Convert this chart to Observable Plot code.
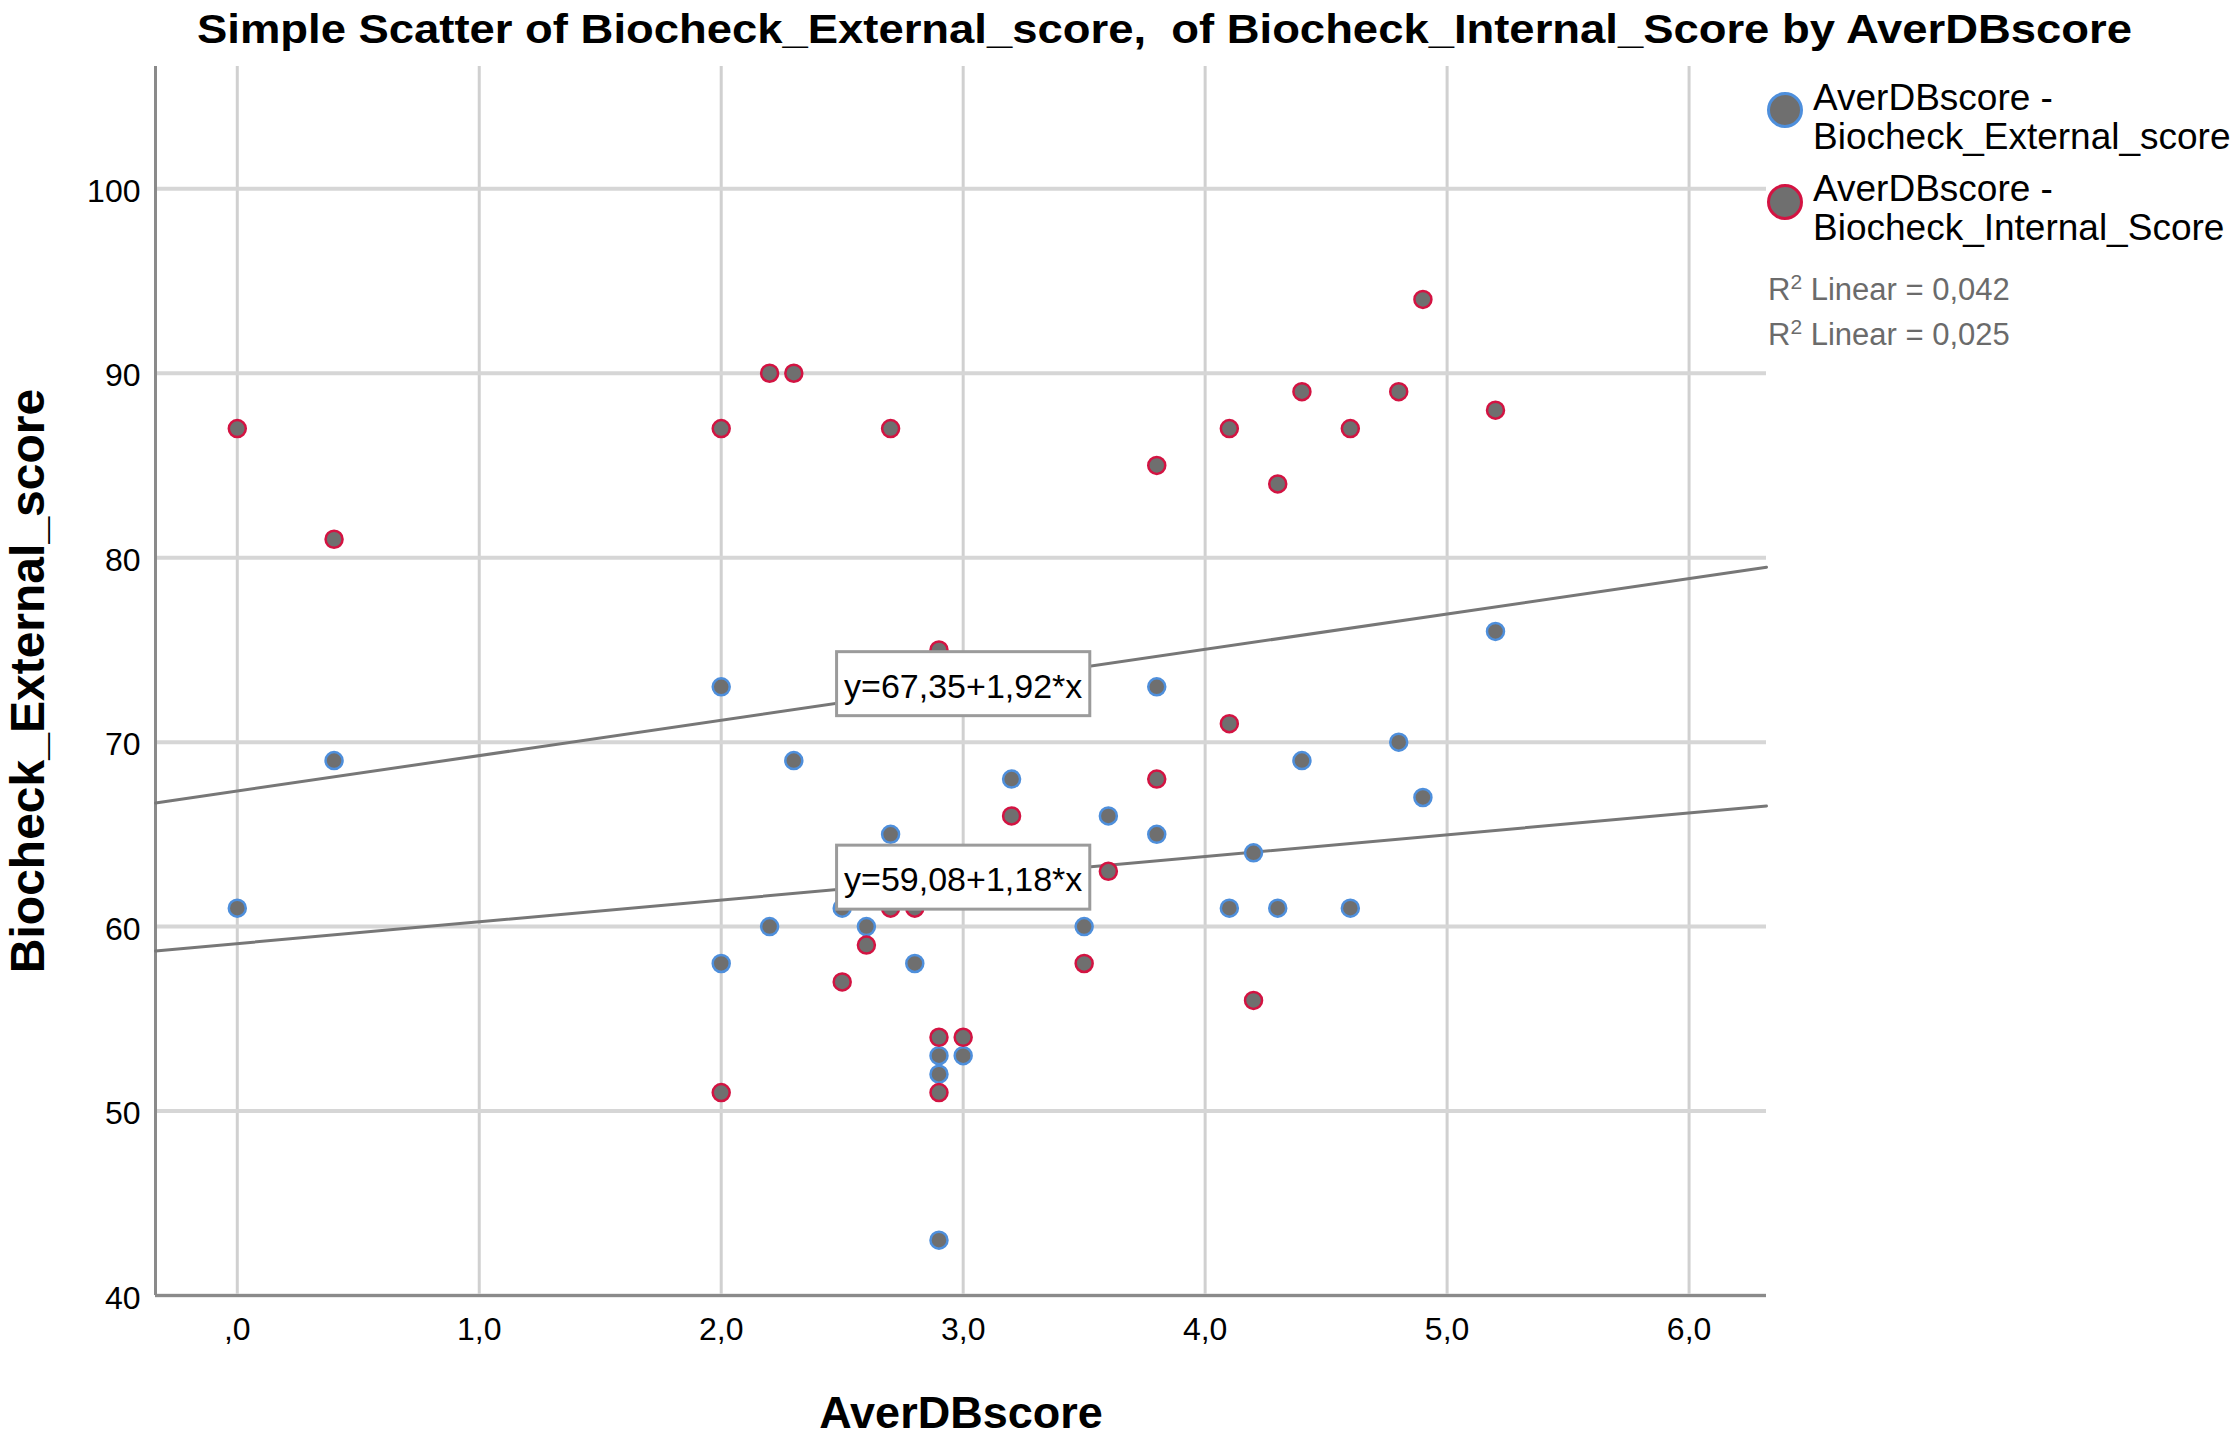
<!DOCTYPE html>
<html>
<head>
<meta charset="utf-8">
<script src="https://cdn.jsdelivr.net/npm/d3@7"></script>
<script src="https://cdn.jsdelivr.net/npm/@observablehq/plot@0.6"></script>
<style>
  body { margin: 0; background: #fff; }
  #fig { position: relative; width: 2236px; height: 1441px; overflow: hidden;
         font-family: "Liberation Sans", Arial, sans-serif; background: #fff; }
  #title { position: relative; height: 58px; }
  #title span { position: absolute; left: 197px; top: 0; line-height: 58px; font-size: 40px;
                font-weight: bold; white-space: pre; transform-origin: 0 0; color: #000; }
  #fig svg { display: block; }
  .leg-swatch { position: absolute; width: 30px; height: 30px; border-radius: 50%;
                border: 3px solid; background: #6f6f6f; }
  .leg-text { position: absolute; font-size: 37px; line-height: 39px; color: #000; white-space: nowrap; }
  .leg-r2 { position: absolute; font-size: 31px; line-height: 45px; color: #6b6b6b; white-space: nowrap; }
  .leg-r2 sup { font-size: 21px; line-height: 0; vertical-align: 11px; }
</style>
</head>
<body>
<div id="fig">
  <div id="title"><span></span></div>
</div>
<script>
// ---- data ----
const titleText = "Simple Scatter of Biocheck_External_score,  of Biocheck_Internal_Score by AverDBscore";
const xLabel = "AverDBscore";
const yLabel = "Biocheck_External_score";
const seriesLabels = ["AverDBscore - Biocheck_External_score", "AverDBscore - Biocheck_Internal_Score"];
const seriesColors = ["#4e8fdc", "#d31342"];

const externalX = [0, 0.4, 2.0, 2.0, 2.2, 2.3, 2.5, 2.6, 2.7, 2.8, 2.9, 2.9, 2.9, 3.0, 3.2, 3.5, 3.6, 3.8, 3.8, 4.1, 4.2, 4.3, 4.4, 4.6, 4.8, 4.9, 5.2];
const externalY = [61, 69, 73, 58, 60, 69, 61, 60, 65, 58, 53, 52, 43, 53, 68, 60, 66, 73, 65, 61, 64, 61, 69, 61, 70, 67, 76];
const internalX = [0, 0.4, 2.0, 2.0, 2.2, 2.3, 2.5, 2.6, 2.7, 2.7, 2.8, 2.9, 2.9, 2.9, 3.0, 3.2, 3.5, 3.6, 3.8, 3.8, 4.1, 4.1, 4.2, 4.3, 4.4, 4.6, 4.8, 4.9, 5.2];
const internalY = [87, 81, 87, 51, 90, 90, 57, 59, 87, 61, 61, 75, 54, 51, 54, 66, 58, 63, 85, 68, 87, 71, 56, 84, 89, 87, 89, 94, 88];

// linear fits (intercept + slope * x) and their R²
const fitIntercepts = [59.08, 67.35];
const fitSlopes = [1.18, 1.92];
const fitLabelX = 3.0;
const rSquared = [0.042, 0.025];

const xTicks = [0, 1, 2, 3, 4, 5, 6];
const xTickLabels = [",0", "1,0", "2,0", "3,0", "4,0", "5,0", "6,0"];
const yTicks = [40, 50, 60, 70, 80, 90, 100];
const xDomain = [-0.338, 6.32];
const yDomain = [40, 106.63];

// ---- derived tables ----
const external = externalX.map((x, i) => ({x, y: externalY[i]}));
const internal = internalX.map((x, i) => ({x, y: internalY[i]}));
const comma = (v, d) => v.toFixed(d).replace(".", ",");
const fits = fitIntercepts.map((a, i) => ({series: i, a, b: fitSlopes[i]}));
const fitLines = fits.flatMap(f => xDomain.map(x => ({series: f.series, x, y: f.a + f.b * x})));
const eqText = f => `y=${comma(f.a, 2)}+${comma(f.b, 2)}*x`;
const eqStrings = fits.map(eqText);

// ---- title ----
const fig = document.getElementById("fig");
const titleSpan = document.querySelector("#title span");
titleSpan.textContent = titleText;

// ---- chart ----
const chart = Plot.plot({
  width: 2236,
  height: 1383,
  marginLeft: 155,
  marginRight: 470,
  marginTop: 8,
  marginBottom: 146,
  x: {domain: xDomain},
  y: {domain: yDomain},
  style: {fontFamily: "'Liberation Sans', Arial, sans-serif", background: "white", color: "black"},
  marks: [
    Plot.gridX(xTicks, {stroke: "#d0d0d0", strokeOpacity: 1, strokeWidth: 3}),
    Plot.gridY(yTicks, {stroke: "#d6d6d6", strokeOpacity: 1, strokeWidth: 4}),
    Plot.ruleX([xDomain[0]], {stroke: "#8a8a8a", strokeWidth: 3}),
    Plot.ruleY([yDomain[0]], {stroke: "#8a8a8a", strokeWidth: 3}),
    Plot.axisX(xTicks, {tickSize: 0, tickPadding: 22, fontSize: 32, label: null,
      tickFormat: d => xTickLabels[xTicks.indexOf(d)]}),
    Plot.axisY(yTicks, {tickSize: 0, tickPadding: 15, fontSize: 32, dy: 3, label: null}),
    Plot.line(fitLines, {x: "x", y: "y", z: "series", stroke: "#777777", strokeWidth: 3}),
    Plot.dot(external, {x: "x", y: "y", r: 8.5, fill: "#6f6f6f", stroke: seriesColors[0], strokeWidth: 2.5}),
    Plot.dot(internal, {x: "x", y: "y", r: 8.5, fill: "#6f6f6f", stroke: seriesColors[1], strokeWidth: 2.5}),
    Plot.text(fits, {
      x: () => fitLabelX,
      y: f => f.a + f.b * fitLabelX,
      text: eqText,
      fontSize: 34, dy: 2, fill: "black"
    }),
    Plot.text([xLabel], {text: d => d, frameAnchor: "bottom", lineAnchor: "middle", textAnchor: "middle",
      dy: 118, fontSize: 45, fontWeight: "bold", fill: "black"}),
    Plot.text([yLabel], {text: d => d, frameAnchor: "left", lineAnchor: "middle", textAnchor: "middle",
      dx: -127, rotate: -90, fontSize: 48, fontWeight: "bold", fill: "black"})
  ]
});
fig.append(chart);

// framed boxes behind the fit equations
d3.select(chart).selectAll("text").filter(function() {
  return eqStrings.includes(this.textContent);
}).each(function() {
  const b = this.getBBox();
  const w = b.width + 15, h = 64;
  const cx = b.x + b.width / 2, cy = b.y + b.height / 2 - 2;
  const r = document.createElementNS("http://www.w3.org/2000/svg", "rect");
  r.setAttribute("x", cx - w / 2);
  r.setAttribute("y", cy - h / 2);
  r.setAttribute("width", w);
  r.setAttribute("height", h);
  r.setAttribute("fill", "white");
  r.setAttribute("stroke", "#9b9b9b");
  r.setAttribute("stroke-width", 3);
  const t = this.getAttribute("transform");
  if (t) r.setAttribute("transform", t);
  this.parentNode.insertBefore(r, this);
});

// fit title to its width
const tw = titleSpan.getBoundingClientRect().width;
titleSpan.style.transform = `scaleX(${1935 / tw})`;

// ---- legend ----
seriesLabels.forEach((label, i) => {
  const sw = document.createElement("div");
  sw.className = "leg-swatch";
  sw.style.left = "1767px";
  sw.style.top = (92 + i * 92) + "px";
  sw.style.borderColor = seriesColors[i];
  fig.append(sw);
  const tx = document.createElement("div");
  tx.className = "leg-text";
  tx.style.left = "1813px";
  tx.style.top = (78 + i * 91) + "px";
  const parts = label.split(" - ");
  tx.innerHTML = `${parts[0]} -<br>${parts[1]}`;
  fig.append(tx);
});
rSquared.forEach((v, i) => {
  const el = document.createElement("div");
  el.className = "leg-r2";
  el.style.left = "1768px";
  el.style.top = (267 + i * 45) + "px";
  el.innerHTML = `R<sup>2</sup> Linear = ${comma(v, 3)}`;
  fig.append(el);
});
</script>
</body>
</html>
